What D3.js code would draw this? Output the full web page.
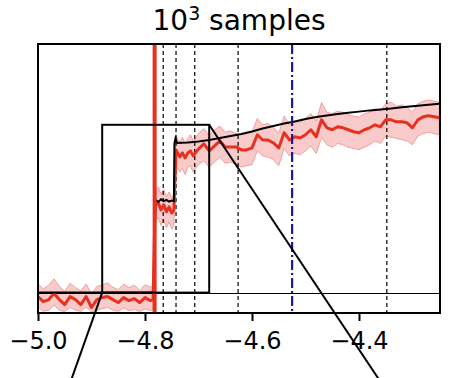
<!DOCTYPE html>
<html>
<head>
<meta charset="utf-8">
<script src="https://cdn.jsdelivr.net/npm/d3@7"></script>
<style>
  body { margin: 0; background: #fff; }
  svg text { font-family: "DejaVu Sans", sans-serif; }
</style>
</head>
<body>
<svg id="svg"></svg>
<script>
var width = 461, height = 378;
var plotL = 38, plotR = 440, plotT = 44, plotB = 313;

// sample positions and averaged estimate with its band
var sampleX = [-5.00, -4.99, -4.98, -4.97, -4.96, -4.95, -4.94, -4.93, -4.92, -4.91,
	-4.90, -4.89, -4.88, -4.87, -4.86, -4.85, -4.84, -4.83, -4.82, -4.81,
	-4.80, -4.79, -4.785, -4.781, -4.775, -4.77, -4.765, -4.76, -4.755, -4.75,
	-4.746, -4.742, -4.735, -4.73, -4.725, -4.72, -4.715, -4.71, -4.70, -4.69,
	-4.68, -4.67, -4.66, -4.65, -4.64, -4.63, -4.62, -4.61, -4.60, -4.59,
	-4.58, -4.57, -4.56, -4.55, -4.54, -4.53, -4.52, -4.51, -4.50, -4.49,
	-4.48, -4.47, -4.46, -4.45, -4.44, -4.43, -4.42, -4.41, -4.40, -4.39,
	-4.38, -4.37, -4.36, -4.35, -4.34, -4.33, -4.32, -4.31, -4.30, -4.29,
	-4.28, -4.27, -4.26, -4.25];
var meanY = [-1.6, -3.6, -2.8, -0.4, -2.8, -4.8, -1.6, -2.8, -4.8, -1.6,
	-6.0, -2.8, -2.0, -1.6, -2.8, -4.0, -2.0, -3.2, -2.4, -4.0,
	-2.0, -3.2, -2.8, 35.3, 36.0, 33.3, 35.3, 32.5, 34.5, 32.0,
	33.0, 57.4, 54.6, 56.2, 54.2, 56.2, 57.0, 55.0, 57.8, 59.8,
	57.0, 59.0, 61.0, 58.6, 58.6, 58.6, 57.4, 57.4, 58.2, 63.5,
	61.4, 61.4, 60.2, 58.2, 64.3, 61.4, 62.7, 62.2, 63.5, 65.5,
	62.7, 69.5, 66.3, 65.5, 66.7, 66.3, 65.5, 64.7, 64.3, 65.5,
	66.3, 67.5, 66.7, 69.5, 69.5, 68.7, 68.7, 68.3, 66.3, 69.5,
	70.7, 71.1, 70.7, 70.3];
var bandHi = [3.5, 1.5, 3.0, 5.5, 2.5, 0.5, 3.8, 2.0, 0.8, 3.5,
	-0.5, 2.5, 3.0, 4.0, 2.2, 1.2, 3.5, 2.0, 3.0, 1.0,
	3.2, 2.2, 2.5, 41.0, 42.5, 39.5, 41.5, 38.5, 40.5, 38.0,
	39.0, 63.0, 60.5, 62.5, 60.0, 62.0, 63.5, 61.0, 64.0, 66.0,
	63.0, 65.5, 67.0, 64.5, 65.0, 64.0, 63.5, 64.0, 64.5, 70.0,
	67.5, 68.0, 66.5, 64.0, 71.0, 67.5, 69.0, 68.5, 70.0, 72.0,
	69.0, 76.5, 72.5, 72.0, 73.0, 72.5, 71.5, 71.0, 70.5, 72.0,
	72.5, 74.0, 73.0, 76.0, 76.5, 75.0, 75.5, 74.5, 72.5, 76.0,
	77.0, 77.5, 77.0, 76.5];
var bandLo = [-6.0, -7.5, -7.0, -5.0, -7.2, -7.6, -6.0, -7.0, -7.6, -5.8,
	-7.8, -7.0, -6.5, -6.0, -7.0, -7.5, -6.2, -7.2, -6.8, -7.6,
	-6.5, -7.2, -7.0, 29.0, 30.0, 27.0, 29.5, 26.0, 28.5, 25.5,
	27.0, 51.0, 48.5, 50.0, 47.5, 50.5, 51.0, 48.5, 51.5, 53.0,
	50.5, 52.5, 54.5, 52.0, 52.5, 51.5, 50.5, 51.0, 51.5, 57.0,
	55.0, 54.5, 53.5, 51.0, 58.0, 55.0, 56.0, 55.5, 57.0, 59.0,
	56.0, 62.5, 59.5, 58.5, 60.0, 59.5, 58.5, 58.0, 57.5, 58.5,
	59.5, 61.0, 60.0, 63.0, 62.5, 62.0, 61.5, 61.0, 59.5, 63.0,
	64.0, 64.5, 64.0, 63.5];

// reference curve
var modelX = [-5.00, -4.782, -4.781, -4.775, -4.77, -4.765, -4.76, -4.755, -4.75, -4.746,
	-4.745, -4.743, -4.74, -4.72, -4.70, -4.68, -4.66, -4.64, -4.62, -4.60,
	-4.58, -4.56, -4.54, -4.52, -4.50, -4.48, -4.46, -4.44, -4.42, -4.40,
	-4.38, -4.36, -4.34, -4.32, -4.30, -4.28, -4.26, -4.25];
var modelY = [0, 0, 37.3, 36.5, 37.5, 36.8, 37.3, 36.6, 37.0, 36.8,
	60.0, 62.0, 60.2, 60.4, 60.8, 61.4, 62.2, 63.0, 63.8, 64.8,
	66.0, 67.0, 68.0, 68.8, 69.8, 70.6, 71.2, 71.8, 72.3, 72.8,
	73.3, 73.7, 74.1, 74.6, 75.0, 75.4, 75.8, 76.0];

var redLineX = -4.782;
var dashedX = [-4.766, -4.742, -4.707, -4.626, -4.348];
var blueLineX = -4.525;
var zoomBox = [-4.88, -4.68, 0, 67.5];   // x0, x1, y0, y1
var xTicks = [-5.0, -4.8, -4.6, -4.4];

var svg = d3.select("#svg")
	.attr("width", width)
	.attr("height", height);

var x = d3.scaleLinear()
	.domain([-5.0, -4.2486])
	.range([plotL, plotR]);
var y = d3.scaleLinear()
	.domain([-8.2, 100])
	.range([plotB, plotT]);

svg.append("clipPath")
	.attr("id", "plotclip")
	.append("rect")
	.attr("x", plotL)
	.attr("y", plotT)
	.attr("width", plotR - plotL)
	.attr("height", plotB - plotT);

var plot = svg.append("g").attr("clip-path", "url(#plotclip)");

var idx = d3.range(sampleX.length);

plot.append("path")
	.datum(idx)
	.attr("d", d3.area()
		.x(function(i) { return x(sampleX[i]); })
		.y0(function(i) { return y(bandLo[i]); })
		.y1(function(i) { return y(bandHi[i]); }))
	.style("fill", "#f7b3b3")
	.style("fill-opacity", 0.7)
	.style("stroke", "#f0a0a0")
	.style("stroke-width", 1);

// baseline
plot.append("line")
	.attr("x1", plotL).attr("x2", plotR)
	.attr("y1", Math.round(y(0)) + 0.5).attr("y2", Math.round(y(0)) + 0.5)
	.style("stroke", "#000")
	.style("stroke-width", 1);

plot.selectAll("line.dash")
	.data(dashedX)
	.enter()
	.append("line")
	.attr("class", "dash")
	.attr("x1", function(d) { return x(d); })
	.attr("x2", function(d) { return x(d); })
	.attr("y1", plotT).attr("y2", plotB)
	.style("stroke", "#000")
	.style("stroke-width", 1.2)
	.style("stroke-dasharray", "4,3");

plot.append("path")
	.datum(idx)
	.attr("d", d3.line()
		.x(function(i) { return x(sampleX[i]); })
		.y(function(i) { return y(meanY[i]); }))
	.style("fill", "none")
	.style("stroke", "#e8301f")
	.style("stroke-width", 3)
	.style("stroke-linejoin", "round");

plot.append("path")
	.datum(d3.range(modelX.length))
	.attr("d", d3.line()
		.x(function(i) { return x(modelX[i]); })
		.y(function(i) { return y(modelY[i]); }))
	.style("fill", "none")
	.style("stroke", "#000")
	.style("stroke-width", 2);

plot.append("line")
	.attr("x1", x(redLineX)).attr("x2", x(redLineX))
	.attr("y1", plotT).attr("y2", plotB)
	.style("stroke", "#e8301f")
	.style("stroke-width", 4);

plot.append("line")
	.attr("x1", x(blueLineX)).attr("x2", x(blueLineX))
	.attr("y1", plotT).attr("y2", plotB)
	.style("stroke", "#1a1a96")
	.style("stroke-width", 2.2)
	.style("stroke-dasharray", "10,3,2,3");

// zoom rectangle and connectors to the (cropped) inset below
plot.append("rect")
	.attr("x", x(zoomBox[0]))
	.attr("y", y(zoomBox[3]))
	.attr("width", x(zoomBox[1]) - x(zoomBox[0]))
	.attr("height", y(zoomBox[2]) - y(zoomBox[3]))
	.style("fill", "none")
	.style("stroke", "#000")
	.style("stroke-width", 2);

var insetTop = 420, insetLeft = 57, insetRight = 406;
svg.append("line")
	.attr("x1", x(zoomBox[0])).attr("y1", y(zoomBox[2]))
	.attr("x2", insetLeft).attr("y2", insetTop)
	.style("stroke", "#000")
	.style("stroke-width", 2);
svg.append("line")
	.attr("x1", x(zoomBox[1])).attr("y1", y(zoomBox[3]))
	.attr("x2", insetRight).attr("y2", insetTop)
	.style("stroke", "#000")
	.style("stroke-width", 2);

// frame
svg.append("rect")
	.attr("x", plotL).attr("y", plotT)
	.attr("width", plotR - plotL).attr("height", plotB - plotT)
	.style("fill", "none")
	.style("stroke", "#000")
	.style("stroke-width", 2);

var xAxis = d3.axisBottom(x)
	.tickValues(xTicks)
	.tickFormat(d3.format(".1f"))
	.tickSize(8)
	.tickPadding(11);
var gx = svg.append("g")
	.attr("transform", "translate(0," + plotB + ")")
	.call(xAxis);
gx.select(".domain").remove();
gx.selectAll(".tick line").style("stroke-width", 2);
gx.selectAll(".tick text")
	.style("font-size", "24px")
	.style("font-family", "DejaVu Sans")
	.attr("fill", "#000");

var title = svg.append("text")
	.attr("x", (plotL + plotR) / 2)
	.attr("y", 30)
	.style("text-anchor", "middle")
	.style("font-size", "28px");
title.append("tspan").text("10");
title.append("tspan").attr("dy", -10).style("font-size", "19px").text("3");
title.append("tspan").attr("dy", 10).text(" samples");
</script>
</body>
</html>
